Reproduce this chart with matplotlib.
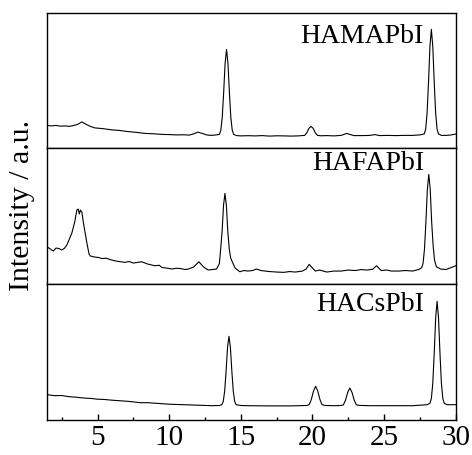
import matplotlib
matplotlib.use("Agg")
import matplotlib.pyplot as plt
from matplotlib.ticker import MultipleLocator

# ── Data (2-theta in degrees, intensity in a.u.) ─────────────────────────────
hama_x = [1.5, 1.8, 2.1, 2.4, 2.7, 3.0, 3.3, 3.6, 3.9, 4.2, 4.5, 4.8, 5.2, 5.5,
          6.0, 6.5, 7.0, 7.6, 8.3, 8.9, 9.5, 10.0, 10.5, 11.0, 11.4, 11.7, 12.0,
          12.3, 12.6, 12.9, 13.3, 13.5, 13.6, 13.7, 13.8, 13.9, 14.0, 14.1,
          14.2, 14.3, 14.4, 14.5, 14.7, 15.0, 15.5, 16.0, 16.5, 17.0, 17.5, 18.0,
          18.5, 19.0, 19.45, 19.6, 19.75, 19.9, 20.05, 20.2, 20.35, 20.6, 21.0,
          21.5, 22.0, 22.2, 22.4, 22.6, 22.9, 23.5, 24.0, 24.35, 24.7, 25.2, 25.8,
          26.4, 27.0, 27.5, 27.8, 27.9, 28.0, 28.1, 28.2, 28.3, 28.4, 28.5, 28.6,
          28.7, 28.8, 29.0, 29.3, 29.6, 30.0]
hama_y = [23, 22.5, 23, 22.2, 22.5, 22, 22.8, 24, 26.5, 24, 22, 20.5, 20, 19.5,
          18.5, 18, 17, 16.2, 15, 14.6, 14, 13.8, 13.5, 13.6, 13.3, 14.5, 16.3,
          15, 13.5, 13, 13.5, 14, 18, 31, 56, 85, 99, 85,
          56, 31, 18, 14, 12.8, 12.5, 12.7, 12.5, 12.8, 12.3, 12.6, 12.5,
          12.3, 12.5, 13, 15.5, 20, 22, 20, 15.5, 13, 12.6, 12.8,
          12.5, 13, 14, 15, 14, 12.8, 12.8, 13, 13.8, 12.8, 13, 12.8,
          13, 13, 13.5, 14.4, 19, 35, 66, 102, 119, 102, 66, 35,
          19, 14.4, 13, 13, 13.3, 14.3]

hafa_x = [1.5, 1.7, 1.9, 2.1, 2.3, 2.5, 2.7, 2.85, 3.0, 3.2, 3.4, 3.55, 3.65, 3.72,
          3.8, 3.9, 4.0, 4.12, 4.24, 4.4, 4.5, 4.8, 5.1, 5.3, 5.6, 5.98, 6.3, 6.5,
          6.9, 7.2, 7.5, 8.07, 8.5, 9.0, 9.3, 9.5, 9.8, 10.2, 10.5, 10.8, 11.1,
          11.33, 11.7, 12.07, 12.4, 12.72, 13.0, 13.3, 13.5, 13.59, 13.69, 13.79,
          13.89, 13.99, 14.09, 14.19, 14.29, 14.4, 14.6, 14.93, 15.2, 15.5, 15.8,
          16.1, 16.4, 17.0, 17.5, 18.0, 18.4, 18.8, 19.3, 19.55, 19.77, 20.0,
          20.2, 20.5, 21.0, 21.5, 22.0, 22.5, 23.0, 23.4, 23.8, 24.2, 24.47, 24.8,
          25.2, 25.5, 26.0, 26.5, 27.0, 27.4, 27.62, 27.72, 27.82, 27.92, 28.02,
          28.12, 28.22, 28.32, 28.42, 28.52, 28.65, 28.95, 29.3, 29.6, 30.0]
hafa_y = [37, 35, 33, 36, 35.5, 34, 36, 39, 44, 51, 62, 74, 75, 70,
          74, 72, 62, 52, 42, 30, 28, 27, 26.5, 25.5, 25.8, 24, 23, 22.5,
          21.7, 22.5, 21, 22.3, 20, 18.3, 18.8, 16.5, 16, 15, 15.8, 15.5, 14.5,
          15, 17, 22.3, 17, 14, 14.5, 15, 20.5, 35, 52.5, 78.7,
          90.7, 78.7, 52.5, 35, 26, 22.3, 16, 12.3, 13.5, 13, 13.5,
          15, 13.5, 12.5, 12, 11.7, 12.5, 12, 13, 15, 19.7, 16,
          13, 14, 12, 13, 13, 14, 13.5, 14.5, 14, 14.8, 18.3, 13.5,
          14, 13, 13, 13.5, 13, 14.5, 16.2, 20.7, 35, 62.5, 94.8,
          109.7, 94.8, 62.5, 39, 24, 17.3, 15, 14.5, 16, 18.3]

hacs_x = [1.5, 2.0, 2.5, 3.0, 3.5, 4.0, 4.5, 5.0, 5.5, 6.0, 6.5, 7.0, 7.5, 8.0,
          8.5, 9.0, 9.5, 10.0, 11.0, 12.0, 13.0, 13.5, 13.67, 13.77, 13.87,
          13.97, 14.07, 14.17, 14.27, 14.37, 14.47, 14.57, 14.67, 15.0, 15.5,
          17.0, 18.5, 19.6, 19.77, 19.92, 20.07, 20.22, 20.37, 20.52, 20.67,
          20.9, 21.5, 22.0, 22.16, 22.31, 22.46, 22.61, 22.76, 22.91, 23.06, 23.3,
          24.0, 25.5, 27.0, 28.0, 28.2, 28.3, 28.4, 28.5, 28.6, 28.7, 28.8, 28.9,
          29.0, 29.1, 29.2, 29.4, 29.7, 30.0]
hacs_y = [25, 24, 24.2, 23, 22.5, 21.7, 21.3, 20.5, 20.2, 19.5, 19, 18.5, 17.8, 17,
          17, 16.5, 16, 15.5, 15, 14.5, 14, 14.2, 15, 18.2, 28.6,
          48.7, 72.3, 83.4, 72.3, 48.7, 28.6, 18.2, 15, 14.2, 14,
          13.8, 13.8, 14.2, 15, 20.3, 28.6, 33.4, 28.6, 20.3, 15,
          14.2, 14, 14.2, 14.9, 19.7, 27.3, 31.7, 27.3, 19.7, 14.9, 14.3,
          14, 14, 14, 15, 16.4, 21.2, 36.7, 66.7, 101.9, 118.4, 101.9, 66.7,
          36.7, 21.2, 16.4, 15, 15, 15]

labels = ["HAMAPbI", "HAFAPbI", "HACsPbI"]
label_y = [0.779, 0.840, 0.799]
x_ticks = [5, 10, 15, 20, 25, 30]

plt.rcParams.update({
    "font.family": "Liberation Serif",
    "font.size": 21,
    "axes.linewidth": 1.0,
})

fig = plt.figure(figsize=(4.72, 4.55), dpi=100)
left, right, top, bottom = 0.1006, 0.9655, 0.972, 0.0776
h = (top - bottom) / 3

series = [(hama_x, hama_y), (hafa_x, hafa_y), (hacs_x, hacs_y)]
axes = []
for i, (xs, ys) in enumerate(series):
    ax = fig.add_axes([left, top - (i + 1) * h, right - left, h])
    ax.plot(xs, ys, color="black", linewidth=0.8)
    ax.set_xlim(1.5, 30)
    ax.set_ylim(0, 135.7)
    ax.set_yticks([])
    ax.text(0.922, label_y[i], labels[i], transform=ax.transAxes,
            ha="right", va="baseline", fontsize=20)
    if i < 2:
        ax.set_xticks([])
    axes.append(ax)

ax = axes[-1]
ax.set_xticks(x_ticks)
ax.xaxis.set_minor_locator(MultipleLocator(2.5))
ax.tick_params(axis="x", which="major", direction="in", length=4.3, width=1.0,
               labelsize=21, pad=4)
ax.tick_params(axis="x", which="minor", direction="in", length=2.2, width=1.0)

fig.text(0.047, 0.549, "Intensity / a.u.", rotation=90,
         ha="center", va="center", fontsize=21.5)

fig.savefig("out.png", dpi=100)
